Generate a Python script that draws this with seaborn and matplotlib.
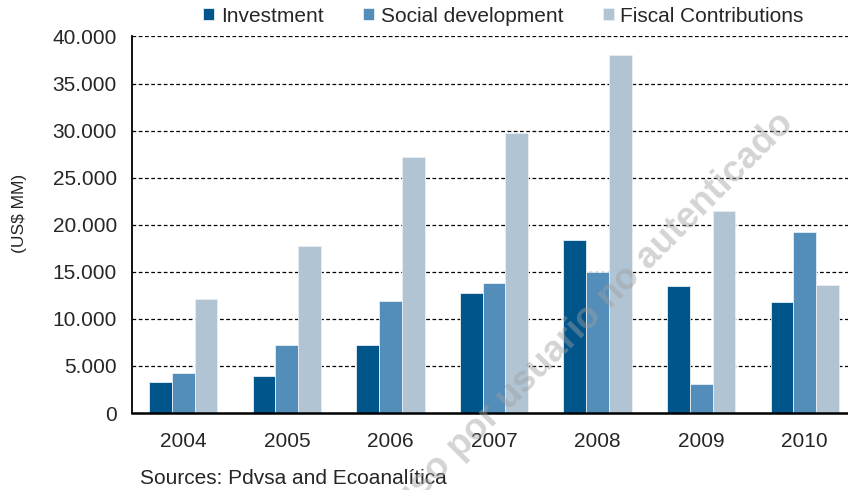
import pandas as pd
import matplotlib.pyplot as plt
import seaborn as sns
from matplotlib.ticker import FuncFormatter, FixedLocator

# Data (US$ MM)
years = ["2004", "2005", "2006", "2007", "2008", "2009", "2010"]
investment = [3300, 3900, 7200, 12800, 18400, 13500, 11800]
social_development = [4300, 7200, 11950, 13800, 15000, 3100, 19200]
fiscal_contributions = [12100, 17700, 27200, 29800, 38000, 21500, 13650]

series_names = ["Investment", "Social development", "Fiscal Contributions"]
colors = ["#00558b", "#538dba", "#b0c4d4"]

df = pd.DataFrame({
    "year": years * 3,
    "value": investment + social_development + fiscal_contributions,
    "series": [s for s in series_names for _ in years],
})

sns.set_style("white")
plt.rcParams["font.family"] = ["Liberation Sans", "DejaVu Sans"]
FS = 15

fig = plt.figure(figsize=(8.48, 4.9), dpi=100)
ax = fig.add_axes([131.5 / 848, 1 - 413 / 490, 725 / 848, 376.5 / 490])

sns.barplot(data=df, x="year", y="value", hue="series", hue_order=series_names,
            palette=colors, saturation=1, width=0.66, gap=0, ax=ax,
            edgecolor="#e8eef3", linewidth=0.6, legend=True)

ax.set_ylim(0, 40000)
ax.set_xlim(-0.5, 6.5)
ax.set_yticks(range(0, 40001, 5000))
ax.yaxis.set_major_formatter(FuncFormatter(lambda v, p: f"{int(v):,}".replace(",", ".")))
for y in range(5000, 40001, 5000):
    ax.axhline(y, color="black", linestyle=(0, (3, 2)), linewidth=0.9, zorder=0)

# ticks between categories on the x axis
ax.xaxis.set_minor_locator(FixedLocator([i + 0.5 for i in range(-1, 7)]))
ax.tick_params(axis="x", which="major", length=0, labelsize=FS, pad=14)
ax.tick_params(axis="x", which="minor", length=5, width=1.2, color="black", direction="out")
ax.tick_params(axis="y", length=5, width=1, color="black", direction="inout", labelsize=FS, pad=8)

ax.spines["right"].set_visible(False)
ax.spines["top"].set_visible(False)
ax.spines["left"].set_linewidth(1.3)
ax.spines["left"].set_color("black")
ax.spines["bottom"].set_linewidth(1.8)
ax.spines["bottom"].set_color("black")

ax.set_xlabel("")
ax.set_ylabel("")
fig.text(19.5 / 848, 1 - 213 / 490, "(US$ MM)", fontsize=12.5, rotation=90,
         ha="center", va="center")

handles, labels = ax.get_legend_handles_labels()
ax.get_legend().remove()
fig.legend(handles, labels, loc="center left", bbox_to_anchor=(203 / 848, 1 - 16 / 490),
           ncol=3, frameon=False, fontsize=FS, handlelength=0.55, handleheight=0.5,
           handletextpad=0.3, columnspacing=1.9, borderaxespad=0, borderpad=0)

fig.text(140 / 848, 1 - 478 / 490, "Sources: Pdvsa and Ecoanalítica", fontsize=FS,
         va="center", ha="left")

# watermark (runs off the bottom edge, as in the source image)
fig.text(594 / 848, 1 - 312 / 490, "uso por usuario no autenticado", fontsize=26.5,
         fontweight="bold", color="#a0a0a0", alpha=0.45, rotation=45,
         ha="center", va="center")

plt.savefig("out.png", dpi=100)
